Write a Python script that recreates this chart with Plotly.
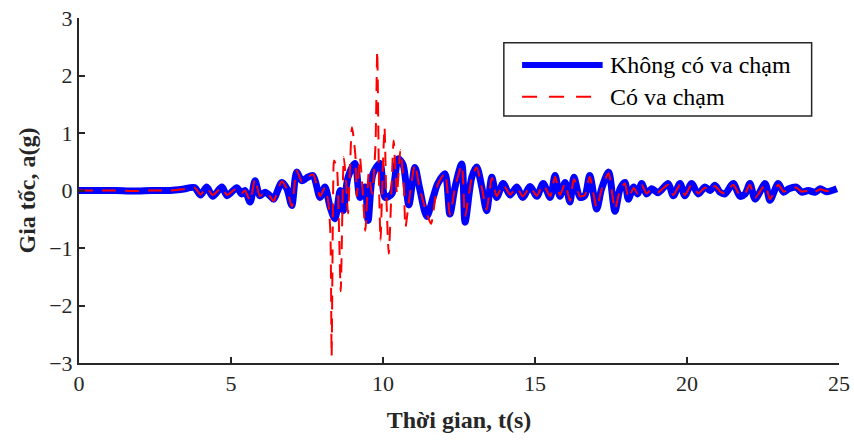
import plotly.graph_objects as go

# ---- data ----
t_blue = [0, 0.6, 1.2, 1.8, 2.4, 3.0, 3.4, 3.8, 4.0, 4.2, 4.4, 4.7, 4.87, 5.19, 5.35, 5.46,
          5.63, 5.79, 5.95, 6.12, 6.28, 6.4, 6.67, 6.84, 7.0, 7.16, 7.33, 7.49, 7.7, 7.93,
          8.09, 8.26, 8.42, 8.59, 8.69, 8.85, 9.08, 9.24, 9.41, 9.51, 9.67, 9.9, 10.07,
          10.29, 10.5, 10.66, 10.85, 11.05, 11.2, 11.44, 11.65, 11.8, 12.04, 12.2, 12.37,
          12.59, 12.7, 12.92, 13.08, 13.25, 13.41, 13.58, 13.74, 13.95, 14.18, 14.4, 14.6,
          14.84, 15.06, 15.27, 15.5, 15.66, 15.82, 15.99, 16.15, 16.28, 16.48, 16.64, 16.8,
          17.03, 17.19, 17.42, 17.63, 17.8, 17.96, 18.07, 18.25, 18.37, 18.51, 18.67, 18.84,
          19.05, 19.38, 19.55, 19.77, 19.93, 20.15, 20.37, 20.59, 20.76, 20.92, 21.09, 21.25,
          21.52, 21.74, 21.91, 22.07, 22.24, 22.57, 22.73, 23.0, 23.18, 23.35, 23.6, 23.77,
          23.99, 24.21, 24.38, 24.6, 24.93]
a_blue = [0.0, 0.0, 0.0, -0.01, 0.0, 0.0, 0.02, 0.05, -0.08, 0.06, -0.1, 0.06, -0.09, 0.05, -0.06, 0.0,
          -0.2, 0.17, -0.09, -0.03, -0.09, -0.15, 0.14, 0.03, -0.26, 0.32, 0.17, 0.22, 0.26, -0.12,
          0.06, -0.29, -0.49, 0.0, -0.35, 0.23, 0.47, -0.12, 0.06, -0.52, 0.29, 0.47, -0.12,
          -0.06, 0.55, 0.45, -0.25, 0.4, 0.05, -0.45, -0.12, 0.12, 0.29, -0.41, 0.06,
          0.46, -0.55, 0.23, 0.41, 0.06, -0.35, 0.23, -0.12, 0.12, -0.08, 0.06, -0.12,
          0.07, -0.1, 0.12, -0.12, 0.26, -0.1, 0.14, -0.2, 0.23, -0.12, -0.09, 0.26,
          -0.32, 0.03, 0.32, -0.36, 0.03, 0.14, -0.15, 0.06, -0.06, 0.12, -0.06, 0.03,
          -0.04, 0.12, -0.09, 0.12, -0.09, 0.12, -0.06, 0.06, 0.0, 0.09, -0.03, -0.06,
          0.12, -0.1, -0.06, 0.12, -0.15, 0.12, -0.17, 0.12, -0.03, 0.03, 0.06, -0.03,
          0.0, -0.03, 0.03, -0.02, 0.03]

t_red = [0, 0.6, 1.2, 1.8, 2.4, 3.0, 3.4, 3.8, 4.0, 4.2, 4.4, 4.7, 4.87, 5.19, 5.35, 5.46,
         5.63, 5.79, 5.95, 6.12, 6.28, 6.4, 6.67, 6.84, 7.0, 7.16, 7.33, 7.49, 7.7, 7.93,
         8.09, 8.2, 8.27, 8.31, 8.36, 8.39, 8.48, 8.54, 8.61, 8.71, 8.78, 8.85, 8.98, 9.09,
         9.14, 9.24, 9.33, 9.42, 9.53, 9.64, 9.75, 9.81, 9.87, 9.92, 9.97, 10.05, 10.1,
         10.19, 10.29, 10.35, 10.46, 10.57, 10.68, 10.74, 10.85, 11.05, 11.2, 11.44, 11.58,
         11.8, 12.04, 12.2, 12.37, 12.59, 12.7, 12.92, 13.08, 13.25, 13.41, 13.58, 13.74,
         13.95, 14.18, 14.4, 14.6, 14.84, 15.06, 15.27, 15.5, 15.66, 15.82, 15.99, 16.15,
         16.28, 16.48, 16.64, 16.8, 17.03, 17.19, 17.42, 17.63, 17.8, 17.96, 18.07, 18.25,
         18.37, 18.51, 18.67, 18.84, 19.05, 19.38, 19.55, 19.77, 19.93, 20.15, 20.37, 20.59,
         20.76, 20.92, 21.09, 21.25, 21.52, 21.74, 21.91, 22.07, 22.24, 22.57, 22.73, 23.0,
         23.18, 23.35, 23.6, 23.77, 23.99, 24.21, 24.38, 24.6, 24.93]
a_red = [0.0, 0.0, 0.0, -0.01, 0.0, 0.0, 0.02, 0.05, -0.07, 0.05, -0.08, 0.05, -0.08, 0.04, -0.05, 0.0,
         -0.18, 0.2, -0.1, -0.02, -0.1, -0.18, 0.16, 0.02, -0.28, 0.35, 0.15, 0.22, 0.28, -0.1,
         0.05, -0.2, -0.75, -2.88, 0.0, 0.52, 0.4, -0.4, -1.75, 0.58, 0.2, -0.4, 1.1, 0.62,
         -0.1, 0.58, 0.0, -0.7, 0.29, -0.06, 0.75, 2.43, 0.06, -0.87, 0.0, 1.1, 0.06,
         -1.1, 0.17, 0.87, -0.06, 0.7, 0.12, -0.64, -0.2, 0.45, 0.05, -0.4, -0.58,
         0.1, 0.3, -0.42, 0.05, 0.44, -0.45, 0.22, 0.4, 0.05, -0.33, 0.22, -0.1,
         0.1, -0.07, 0.05, -0.1, 0.06, -0.09, 0.1, -0.1, 0.24, -0.08, 0.12, -0.18,
         0.2, -0.1, -0.08, 0.24, -0.3, 0.02, 0.3, -0.33, 0.02, 0.12, -0.13, 0.05,
         -0.05, 0.1, -0.05, 0.02, -0.03, 0.1, -0.08, 0.1, -0.08, 0.1, -0.05, 0.05,
         0.0, 0.08, -0.02, -0.05, 0.1, -0.08, -0.05, 0.1, -0.13, 0.1, -0.15, 0.1,
         -0.02, 0.02, 0.05, -0.02, 0.0, -0.02, 0.02, -0.01, 0.02]

x_ticks = [0, 5, 10, 15, 20, 25]
y_ticks = [-3, -2, -1, 0, 1, 2, 3]
name_blue = "Không có va chạm"
name_red = "Có va chạm"

FONT = "Liberation Serif, Times New Roman, serif"
AX = "#262626"

fig = go.Figure()
fig.add_trace(go.Scatter(x=t_blue, y=a_blue, mode="lines", name=name_blue,
                         line=dict(color="#0000FF", width=7, shape="spline", smoothing=0.8),
                         showlegend=False))
fig.add_trace(go.Scatter(x=t_red, y=a_red, mode="lines", name=name_red,
                         line=dict(color="#FF0000", width=2, dash="14px,9px",
                                   shape="spline", smoothing=0.6),
                         showlegend=False))

# custom legend (box, samples, labels) in paper coordinates
shapes = [
    dict(type="rect", xref="paper", yref="paper", x0=0.559, x1=0.964, y0=0.716, y1=0.928,
         line=dict(color=AX, width=1.5), fillcolor="white", layer="above"),
    dict(type="line", xref="paper", yref="paper", x0=0.583, x1=0.689, y0=0.864, y1=0.864,
         line=dict(color="#0000FF", width=6), layer="above"),
    dict(type="line", xref="paper", yref="paper", x0=0.583, x1=0.689, y0=0.772, y1=0.772,
         line=dict(color="#FF0000", width=2, dash="15px,12px"), layer="above"),
]
annotations = [
    dict(text=name_blue, xref="paper", yref="paper", x=0.696, y=0.864, xanchor="left",
         yanchor="middle", showarrow=False, font=dict(family=FONT, size=24, color="black")),
    dict(text=name_red, xref="paper", yref="paper", x=0.696, y=0.772, xanchor="left",
         yanchor="middle", showarrow=False, font=dict(family=FONT, size=24, color="black")),
]

fig.update_layout(
    width=854, height=441,
    margin=dict(l=79, r=15, t=18, b=78, autoexpand=False),
    paper_bgcolor="white", plot_bgcolor="white",
    shapes=shapes, annotations=annotations,
    font=dict(family=FONT, color=AX),
)
fig.update_xaxes(range=[0, 25], tickvals=x_ticks, ticks="inside", ticklen=6, tickwidth=2,
                 tickcolor=AX, showline=True, linecolor=AX, linewidth=2, showgrid=False,
                 zeroline=False, tickfont=dict(family=FONT, size=22, color=AX),
                 title=dict(text="<b>Thời gian, t(s)</b>", standoff=16,
                            font=dict(family=FONT, size=24, color=AX)))
fig.update_yaxes(range=[-3, 3], tickvals=y_ticks, ticks="inside", ticklen=6, tickwidth=2,
                 tickcolor=AX, showline=True, linecolor=AX, linewidth=2, showgrid=False,
                 zeroline=False, tickfont=dict(family=FONT, size=22, color=AX),
                 title=dict(text="<b>Gia tốc, a(g)</b>", standoff=7,
                            font=dict(family=FONT, size=24, color=AX)))

fig.write_html("out.html")
